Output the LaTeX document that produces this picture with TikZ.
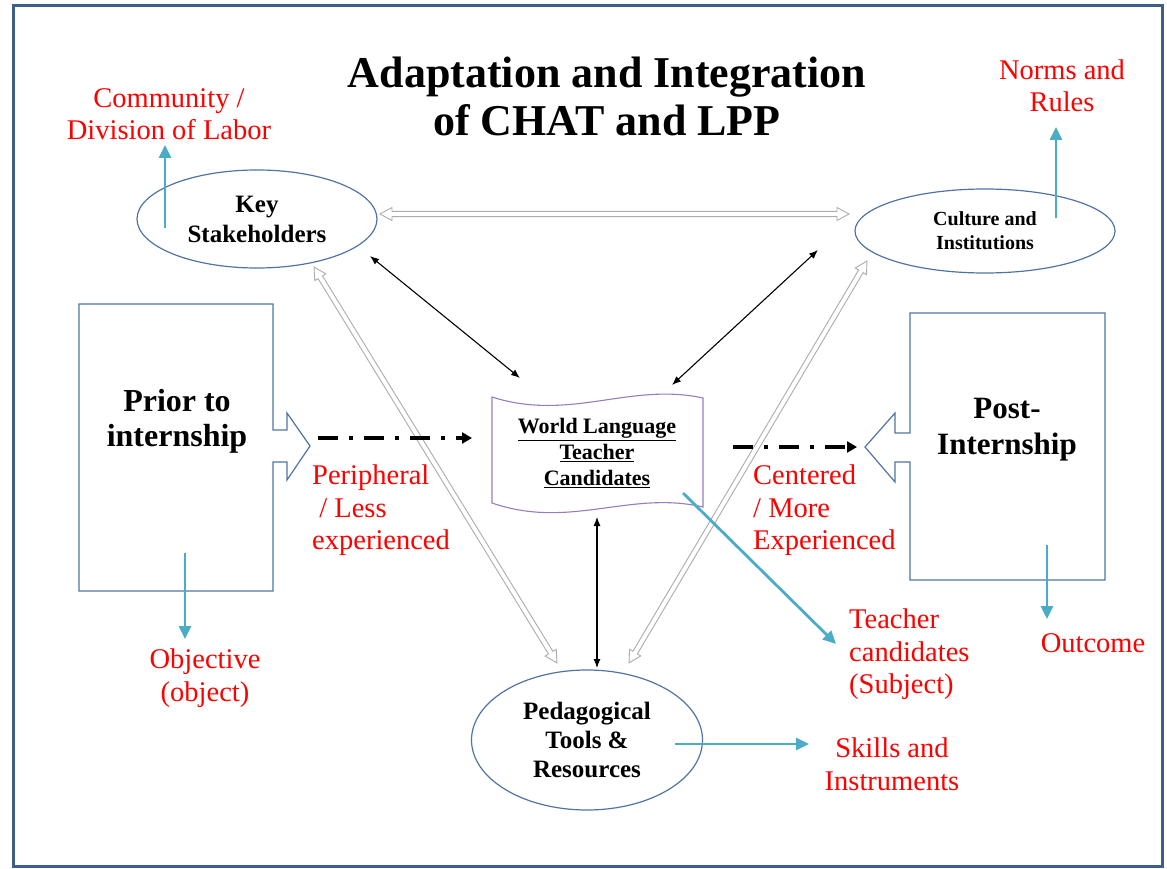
\documentclass[tikz,border=0pt]{standalone}
\usepackage{fontspec}
\setmainfont{Liberation Serif}
\usetikzlibrary{arrows.meta,shapes.geometric,calc}
\definecolor{frameblue}{RGB}{62,94,140}
\definecolor{boxblue}{RGB}{80,115,165}
\definecolor{tealarrow}{RGB}{75,172,198}
\definecolor{wavepurple}{RGB}{150,125,190}
\newcommand\hollowarr[2]{%
  \draw[hollowsty] let \p1=(#1), \p2=(#2), \n1={atan2(\y2-\y1,\x2-\x1)}, \n2={veclen(\x2-\x1,\y2-\y1)} in
  [shift={(\p1)}, rotate=\n1] (0,0) -- (12,6.5) -- (12,2.6) -- ({\n2-12},2.6) -- ({\n2-12},6.5) -- ({\n2},0) -- ({\n2-12},-6.5) -- ({\n2-12},-2.6) -- (12,-2.6) -- (12,-6.5) -- cycle;}
\begin{document}
\begin{tikzpicture}[x=1pt,y=-1pt,
  redtxt/.style={text=red, font=\fontsize{28.5}{32.5}\selectfont, align=center, inner sep=0pt},
  ell/.style={ellipse, draw=boxblue, line width=1.2pt, inner sep=0pt, align=center},
  outline/.style={draw=boxblue, line width=1.2pt},
  blkarrow/.style={{Latex[length=9pt,width=7pt]}-{Latex[length=9pt,width=7pt]}, line width=1.1pt, black},
  hollowsty/.style={draw=gray!65, line width=0.9pt, fill=white, line join=miter},
  tealarr/.style={tealarrow, line width=2.8pt, -{Triangle[length=13pt,width=12pt]}},
  dd/.style={line width=3.8pt, black, dash pattern=on 20pt off 11pt on 4pt off 11pt, -{Triangle[length=10pt,width=11pt]}},
]
\useasboundingbox (0,0) rectangle (1167,869);
\draw[frameblue, line width=3pt] (13,6) rectangle (1162,866);

% title
\node[font=\bfseries\fontsize{44}{48}\selectfont, align=center, inner sep=0pt] (title) at (607,96) {Adaptation and Integration\\of CHAT and LPP};

% ellipses
\node[ell, minimum width=240pt, minimum height=98pt, font=\bfseries\fontsize{25}{30}\selectfont] (ks) at (257,219) {Key\\Stakeholders};
\node[ell, minimum width=260pt, minimum height=84pt, font=\bfseries\fontsize{20}{24}\selectfont] (ci) at (985,231) {Culture and\\Institutions};
\node[ell, minimum width=231pt, minimum height=140pt, font=\bfseries\fontsize{25}{29}\selectfont] (pt) at (587,740) {Pedagogical\\Tools \&\\Resources};

% prior box
\draw[outline] (79,304) -- (273,304) -- (273,430) -- (287,430) -- (287,413) -- (310,446) -- (287,480) -- (287,462) -- (273,462) -- (273,591) -- (79,591) -- cycle;
\node[font=\bfseries\fontsize{32}{35}\selectfont, align=center, inner sep=0pt] (prior) at (177,421) {Prior to\\internship};

% post box
\draw[outline] (910,313) -- (1105,313) -- (1105,580) -- (910,580) -- (910,462) -- (895,462) -- (895,482) -- (865,447) -- (895,413) -- (895,433) -- (910,433) -- cycle;
\node[font=\bfseries\fontsize{31}{36}\selectfont, align=center, inner sep=0pt] (post) at (1007,430) {Post-\\Internship};

% wave
\draw[wavepurple, line width=1.1pt, fill=white] (492,397) .. controls (570,422) and (630,382) .. (703,398) -- (703,507) .. controls (630,490) and (570,530) .. (492,503) -- cycle;
\node[font=\bfseries\fontsize{22}{26}\selectfont, align=center, inner sep=0pt] (wl) at (597,453) {\underline{World Language}\\\underline{Teacher}\\\underline{Candidates}};

% coordinates for connector ends
\coordinate (ksA) at (370,256);
\coordinate (wlA) at (520,378);
\coordinate (ciA) at (818,250);
\coordinate (wlB) at (672,385);
\coordinate (wlC) at (597,517);
\coordinate (ptA) at (597,668);
\coordinate (ksH) at (380,214);
\coordinate (ciH) at (849,214);
\coordinate (ksB) at (314,267);
\coordinate (ptB) at (557,663);
\coordinate (ciB) at (867,261);
\coordinate (ptC) at (629,663);
\coordinate (priorTip) at (318,438);
\coordinate (wlL) at (472,438);
\coordinate (wlR) at (733,447);
\coordinate (postTip) at (857,447);

% black arrows
\draw[blkarrow] (ksA) -- (wlA);
\draw[blkarrow] (ciA) -- (wlB);
\draw[blkarrow] (wlC) -- (ptA);

% hollow arrows
\hollowarr{ksH}{ciH}
\hollowarr{ksB}{ptB}
\hollowarr{ciB}{ptC}

% dash-dot arrows
\draw[dd] (priorTip) -- (wlL);
\draw[dd] (wlR) -- (postTip);

% red labels
\node[redtxt] (comm) at (169,114) {Community /\\Division of Labor};
\node[redtxt] (norms) at (1062,86) {Norms and\\Rules};
\node[redtxt, align=left, anchor=north west] (periph) at (312,465) {Peripheral\\\ / Less\\experienced};
\node[redtxt, align=left, anchor=north west] (centered) at (753,465) {Centered\\/ More\\Experienced};
\node[redtxt] (objective) at (205,678) {Objective\\(object)};
\node[redtxt, align=left, anchor=north west] (subject) at (849,609) {Teacher\\candidates\\(Subject)};
\node[redtxt] (outcome) at (1093,643) {Outcome};
\node[redtxt] (skills) at (892,764) {Skills and\\Instruments};

% teal arrows
\coordinate (ksT) at (165,228);
\coordinate (ciT) at (1056,218);
\coordinate (priorT) at (185,553);
\coordinate (postT) at (1047,545);
\coordinate (wlT) at (683,493);
\coordinate (ptT) at (675,744);
\draw[tealarr] (ksT) -- (165,145);
\draw[tealarr] (ciT) -- (1056,127);
\draw[tealarr] (priorT) -- (185,639);
\draw[tealarr] (postT) -- (1047,619);
\draw[tealarr] (wlT) -- (836,644);
\draw[tealarr] (ptT) -- (809,744);
\end{tikzpicture}
\end{document}
